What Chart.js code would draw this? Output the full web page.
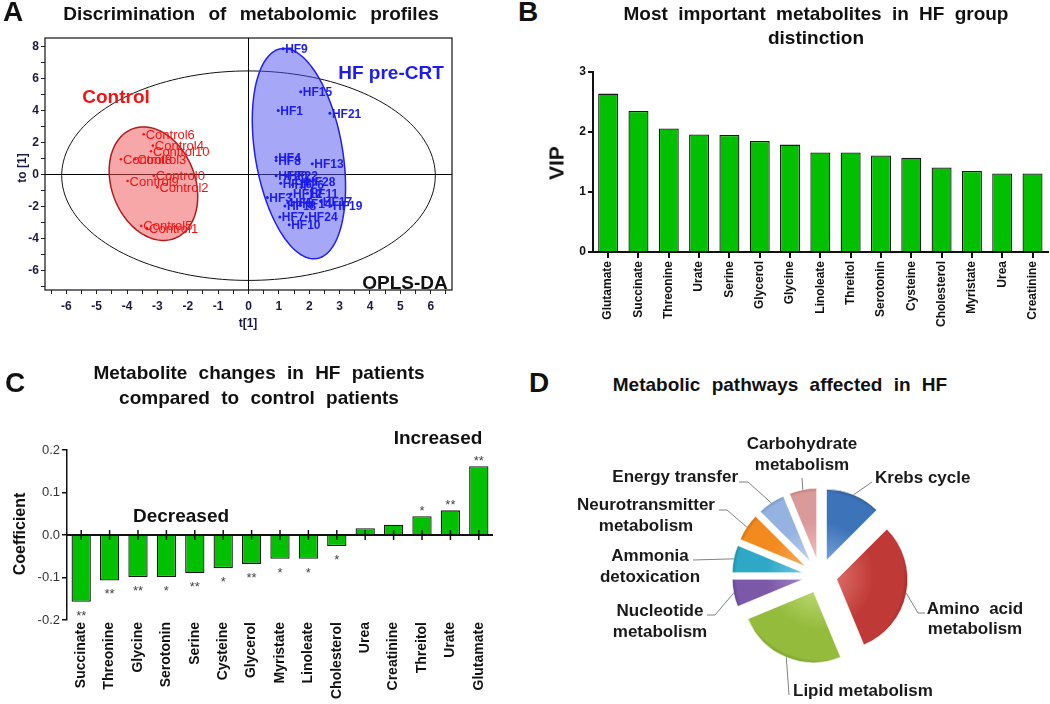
<!DOCTYPE html>
<html>
<head>
<meta charset="utf-8">
<script src="https://cdn.jsdelivr.net/npm/chart.js@4.4.1/dist/chart.umd.min.js"></script>
<style>
  body { margin: 0; width: 1050px; height: 704px; position: relative; overflow: hidden; background: #fff;
         font-family: "Liberation Sans", Arial, sans-serif; color: #111; }
  canvas { position: absolute; }
  .t { position: absolute; font-weight: bold; white-space: nowrap; line-height: 1; transform: translate(-50%, -50%); }
  .r { transform: translate(-50%, -50%) rotate(-90deg); }
</style>
</head>
<body>
<canvas id="cA" width="460" height="335" style="left:0;top:0"></canvas>
<canvas id="cB" width="510" height="330" style="left:540px;top:0"></canvas>
<canvas id="cC" width="520" height="374" style="left:0;top:330px"></canvas>
<canvas id="cD" width="520" height="284" style="left:530px;top:420px"></canvas>

<!-- panel letters and titles -->
<div class="t" style="left:13px;top:12px;font-size:28px">A</div>
<div class="t" style="left:528px;top:12px;font-size:28px">B</div>
<div class="t" style="left:15px;top:383px;font-size:28px">C</div>
<div class="t" style="left:539px;top:383px;font-size:28px">D</div>

<div class="t" style="left:251px;top:13px;font-size:19px;word-spacing:8px">Discrimination of metabolomic profiles</div>
<div class="t" style="left:816px;top:13px;font-size:19px;word-spacing:5px">Most important metabolites in HF group</div>
<div class="t" style="left:816px;top:37px;font-size:19px">distinction</div>
<div class="t" style="left:259px;top:372px;font-size:19px;word-spacing:6px">Metabolite changes in HF patients</div>
<div class="t" style="left:259px;top:397px;font-size:19px;word-spacing:6px">compared to control patients</div>
<div class="t" style="left:780px;top:384px;font-size:19px;word-spacing:6px">Metabolic pathways affected in HF</div>

<!-- panel A annotations -->
<div class="t" style="left:116px;top:96px;font-size:19px;color:#f01414">Control</div>
<div class="t" style="left:391px;top:72px;font-size:19px;color:#1c1cee">HF pre-CRT</div>
<div class="t" style="left:405px;top:282px;font-size:19px;color:#111">OPLS-DA</div>
<div class="t" style="left:248px;top:323px;font-size:12px;color:#1a1a40">t[1]</div>
<div class="t r" style="left:22px;top:168px;font-size:12px;color:#1a1a40">to [1]</div>

<!-- axis titles B, C -->
<div class="t r" style="left:556px;top:163px;font-size:21px">VIP</div>
<div class="t r" style="left:20px;top:534px;font-size:16px">Coefficient</div>
<div class="t" style="left:181px;top:515px;font-size:19px">Decreased</div>
<div class="t" style="left:438px;top:437px;font-size:19px">Increased</div>

<script>
// ---- Panel A: OPLS-DA score plot ----
const controlNames = ['Control6', 'Control4', 'Control10', 'Control8', 'Control3', 'Control0', 'Control9', 'Control2', 'Control5', 'Control1'];
const controlT  = [-3.45, -3.15, -3.21, -4.2, -3.73, -3.12, -3.98, -3.0, -3.53, -3.34];
const controlTo = [2.54, 1.83, 1.48, 0.98, 0.98, -0.06, -0.38, -0.77, -3.19, -3.33];

const hfNames = ['HF9', 'HF15', 'HF1', 'HF21', 'HF4', 'HF8', 'HF13', 'HF20', 'HF22', 'HF28', 'HF16', 'HF26',
                 'HF11', 'HF12', 'HF3', 'HF5', 'HF17', 'HF19', 'HF18', 'HF14', 'HF7', 'HF24', 'HF10'];
const hfT  = [1.14, 1.72, 0.98, 2.68, 0.91, 0.91, 2.1, 0.91, 1.25, 1.83, 1.06, 1.45,
              1.94, 1.4, 0.62, 1.3, 2.38, 2.72, 1.2, 1.7, 1.03, 1.9, 1.34];
const hfTo = [7.88, 5.2, 4.02, 3.85, 1.1, 0.9, 0.69, -0.06, -0.08, -0.42, -0.52, -0.62,
              -1.15, -1.2, -1.42, -1.75, -1.67, -1.93, -1.94, -1.82, -2.64, -2.62, -3.12];

// Hotelling T2 ellipse, Control and HF confidence ellipses (centre, two conjugate semi-axes, data units)
const ellipseCenter = [[0, -0.05], [-3.13, -0.55], [1.66, 1.33]];
const ellipseAxisU  = [[0, 6.55], [-0.33, 3.55], [-0.49, 6.58]];
const ellipseAxisV  = [[6.15, 0], [1.42, 0], [1.455, 0]];

const xTicksA = [-6.5, -6, -5.5, -5, -4.5, -4, -3.5, -3, -2.5, -2, -1.5, -1, -0.5, 0,
                 0.5, 1, 1.5, 2, 2.5, 3, 3.5, 4, 4.5, 5, 5.5, 6, 6.5];
const yTicksA = [-7, -6, -5, -4, -3, -2, -1, 0, 1, 2, 3, 4, 5, 6, 7, 8];

// ---- Panel B: VIP ----
const vipNames = ['Glutamate', 'Succinate', 'Threonine', 'Urate', 'Serine', 'Glycerol', 'Glycine', 'Linoleate',
                  'Threitol', 'Serotonin', 'Cysteine', 'Cholesterol', 'Myristate', 'Urea', 'Creatinine'];
const vipValues = [2.64, 2.35, 2.06, 1.96, 1.95, 1.85, 1.79, 1.66, 1.66, 1.61, 1.57, 1.41, 1.35, 1.31, 1.31];
const vipTicks = [0, 1, 2, 3];

// ---- Panel C: coefficients ----
const coefNames = ['Succinate', 'Threonine', 'Glycine', 'Serotonin', 'Serine', 'Cysteine', 'Glycerol', 'Myristate',
                   'Linoleate', 'Cholesterol', 'Urea', 'Creatinine', 'Threitol', 'Urate', 'Glutamate'];
const coefValues = [-0.157, -0.107, -0.099, -0.099, -0.090, -0.078, -0.068, -0.056, -0.056, -0.026, 0.016, 0.024, 0.044, 0.058, 0.162];
const coefStars = ['**', '**', '**', '*', '**', '*', '**', '*', '*', '*', '', '', '*', '**', '**'];
const coefTicks = [-0.2, -0.1, 0, 0.1, 0.2];

// ---- Panel D: pathways ----
const pathNames = ['Krebs cycle', 'Amino acid metabolism', 'Lipid metabolism', 'Nucleotide metabolism',
                   'Ammonia detoxication', 'Neurotransmitter metabolism', 'Energy transfer', 'Carbohydrate metabolism'];
const pathCounts = [2, 5, 4, 1, 1, 1, 1, 1];
const pathColors = ['#3d73b9', '#bf3a36', '#94bb3c', '#7b58a8', '#2ea8c6', '#f28a1f', '#94b3e0', '#db9a9a'];
const pathLight  = ['#7aa6dc', '#de6e69', '#bcd871', '#a486cb', '#6fcbe2', '#f8b16a', '#c0d3f0', '#efc2c2'];
const pathDark   = ['#27528c', '#8f2623', '#6f902a', '#553a7e', '#1b7e98', '#c0660c', '#6b8fc2', '#b57070'];

const FONT = '"Liberation Sans", Arial, sans-serif';
Chart.defaults.font.family = FONT;
Chart.defaults.animation = false;
Chart.defaults.responsive = false;
Chart.defaults.plugins.legend.display = false;
Chart.defaults.plugins.tooltip.enabled = false;

// panel A plugins
const ellipseFill   = [null, 'rgba(240,80,80,0.5)', 'rgba(80,80,240,0.5)'];
const ellipseStroke = ['#111', '#b01c1c', '#2020ee'];
const ellipseWidth  = [1, 1.5, 1.5];

const ellipsePlugin = {
  id: 'ellipses',
  beforeDatasetsDraw(chart) {
    const {ctx, chartArea: a, scales: {x, y}} = chart;
    ctx.save();
    ctx.beginPath();
    ctx.rect(a.left, a.top, a.right - a.left, a.bottom - a.top);
    ctx.clip();
    ellipseCenter.forEach((c, i) => {
      const u = ellipseAxisU[i], v = ellipseAxisV[i];
      ctx.beginPath();
      for (let k = 0; k <= 180; k++) {
        const t = k / 180 * Math.PI * 2;
        const px = x.getPixelForValue(c[0] + u[0] * Math.cos(t) + v[0] * Math.sin(t));
        const py = y.getPixelForValue(c[1] + u[1] * Math.cos(t) + v[1] * Math.sin(t));
        if (k) ctx.lineTo(px, py); else ctx.moveTo(px, py);
      }
      ctx.closePath();
      if (ellipseFill[i]) { ctx.fillStyle = ellipseFill[i]; ctx.fill(); }
      ctx.lineWidth = ellipseWidth[i];
      ctx.strokeStyle = ellipseStroke[i];
      ctx.stroke();
    });
    ctx.restore();
  }
};

const pointLabelPlugin = {
  id: 'pointLabels',
  afterDatasetsDraw(chart) {
    const ctx = chart.ctx;
    chart.data.datasets.forEach((ds, di) => {
      const meta = chart.getDatasetMeta(di);
      ctx.save();
      ctx.font = ds.labelFont;
      ctx.fillStyle = ds.borderColor;
      ctx.textBaseline = 'middle';
      meta.data.forEach((pt, i) => ctx.fillText(ds.names[i], pt.x + 2, pt.y + 1));
      ctx.restore();
    });
    // frame round the plot
    const a = chart.chartArea;
    ctx.save();
    ctx.strokeStyle = '#111';
    ctx.lineWidth = 1.2;
    ctx.strokeRect(a.left, a.top, a.right - a.left, a.bottom - a.top);
    ctx.restore();
  }
};

new Chart(document.getElementById('cA'), {
  type: 'scatter',
  data: {
    datasets: [
      {
        data: controlT.map((t, i) => ({x: t, y: controlTo[i]})),
        names: controlNames, labelFont: '13px ' + FONT,
        backgroundColor: '#f01414', borderColor: '#f01414', pointRadius: 1.3, borderWidth: 0
      },
      {
        data: hfT.map((t, i) => ({x: t, y: hfTo[i]})),
        names: hfNames, labelFont: 'bold 12px ' + FONT,
        backgroundColor: '#1c1cee', borderColor: '#1c1cee', pointRadius: 1.5, borderWidth: 0
      }
    ]
  },
  options: {
    layout: {padding: {top: 38, right: 8}},
    scales: {
      x: {
        type: 'linear', min: -6.7, max: 6.7,
        afterBuildTicks: s => { s.ticks = xTicksA.map(v => ({value: v})); },
        afterFit: s => { s.height = 45; },
        ticks: {callback: v => Number.isInteger(v) ? String(v) : '', color: '#1a1a40',
                font: {size: 12, weight: 'bold'}, padding: 5, maxRotation: 0, autoSkip: false},
        grid: {color: c => (c.tick && c.tick.value === 0) ? '#000' : 'rgba(0,0,0,0)',
               tickColor: '#222', tickLength: 4, lineWidth: 1},
        border: {display: false}
      },
      y: {
        min: -7.2, max: 8.56,
        afterBuildTicks: s => { s.ticks = yTicksA.map(v => ({value: v})); },
        afterFit: s => { s.width = 45; },
        ticks: {callback: v => v % 2 === 0 ? String(v) : '', color: '#1a1a40',
                font: {size: 12, weight: 'bold'}, padding: 2, autoSkip: false},
        grid: {color: c => (c.tick && c.tick.value === 0) ? '#000' : 'rgba(0,0,0,0)',
               tickColor: '#222', tickLength: 4, lineWidth: 1},
        border: {display: false}
      }
    }
  },
  plugins: [ellipsePlugin, pointLabelPlugin]
});

// ---- Panel B ----
new Chart(document.getElementById('cB'), {
  type: 'bar',
  data: {
    labels: vipNames,
    datasets: [{data: vipValues, backgroundColor: '#00c000', borderColor: '#1a1a1a', borderWidth: 1.3,
                barPercentage: 0.66, categoryPercentage: 1}]
  },
  options: {
    layout: {padding: {top: 72, right: 2}},
    scales: {
      x: {
        afterFit: s => { s.height = 78; },
        ticks: {minRotation: 90, maxRotation: 90, autoSkip: false, color: '#111',
                font: {size: 12, weight: 'bold'}, padding: 3},
        grid: {offset: false, drawOnChartArea: false, tickLength: 6, tickColor: '#111', lineWidth: 2},
        border: {color: '#111', width: 2}
      },
      y: {
        min: 0, max: 3,
        afterBuildTicks: s => { s.ticks = vipTicks.map(v => ({value: v})); },
        afterFit: s => { s.width = 53; },
        ticks: {color: '#111', font: {size: 12, weight: 'bold'}, padding: 2},
        grid: {drawOnChartArea: false, tickLength: 5, tickColor: '#111', lineWidth: 2},
        border: {color: '#111', width: 2}
      }
    }
  }
});

// ---- Panel C ----
const zeroAxisPlugin = {
  id: 'zeroAxis',
  afterDatasetsDraw(chart) {
    const {ctx, chartArea: a, scales: {x, y}} = chart;
    const y0 = y.getPixelForValue(0);
    ctx.save();
    ctx.strokeStyle = '#111';
    ctx.lineWidth = 2;
    ctx.beginPath();
    ctx.moveTo(a.left, y0);
    ctx.lineTo(a.right, y0);
    ctx.stroke();
    ctx.lineWidth = 1.5;
    coefNames.forEach((n, i) => {
      const px = x.getPixelForValue(i);
      ctx.beginPath();
      ctx.moveTo(px, y0 - 5);
      ctx.lineTo(px, y0 + 5);
      ctx.stroke();
    });
    const meta = chart.getDatasetMeta(0);
    ctx.fillStyle = '#444';
    ctx.font = '13px ' + FONT;
    ctx.textAlign = 'center';
    meta.data.forEach((bar, i) => {
      ctx.fillText(coefStars[i], bar.x, coefValues[i] < 0 ? bar.y + 18 : bar.y - 1);
    });
    ctx.restore();
  }
};

new Chart(document.getElementById('cC'), {
  type: 'bar',
  data: {
    labels: coefNames,
    datasets: [{data: coefValues, backgroundColor: '#00c000', borderColor: '#1a1a1a', borderWidth: 1.3,
                barPercentage: 0.68, categoryPercentage: 1}]
  },
  options: {
    layout: {padding: {top: 120, right: 27}},
    scales: {
      x: {
        afterFit: s => { s.height = 84; },
        ticks: {minRotation: 90, maxRotation: 90, autoSkip: false, color: '#111',
                font: {size: 14, weight: 'bold'}, padding: 2},
        grid: {display: false, drawTicks: false},
        border: {display: false}
      },
      y: {
        min: -0.2, max: 0.2,
        afterBuildTicks: s => { s.ticks = coefTicks.map(v => ({value: v})); },
        afterFit: s => { s.width = 67; },
        ticks: {callback: v => v.toFixed(1), color: '#333', font: {size: 13}, padding: 2},
        grid: {drawOnChartArea: false, tickLength: 5, tickColor: '#111', lineWidth: 1.5},
        border: {color: '#111', width: 1.5}
      }
    }
  },
  plugins: [zeroAxisPlugin]
});

// ---- Panel D ----
const explode = 17;
// label text, anchor and leader elbows (canvas pixels)
const pathLines = [['Krebs cycle'], ['Amino  acid', 'metabolism'], ['Lipid metabolism'], ['Nucleotide', 'metabolism'],
                   ['Ammonia', 'detoxication'], ['Neurotransmitter', 'metabolism'], ['Energy transfer'], ['Carbohydrate', 'metabolism']];
const pathAlign = ['left', 'center', 'left', 'center', 'center', 'center', 'right', 'center'];
const pathLabelX = [345, 445, 263, 130, 120, 116, 208, 272];
const pathLabelY = [[58], [189, 209], [271], [191, 212], [136, 157], [85, 106], [57], [24, 45]];
const pathLeader = [[[342, 62]], [[388, 193], [395, 193]], [[259, 275]], [[185, 195], [177, 195]],
                    [[163, 140]], [[197, 90], [189, 90]], [[218, 62], [209, 62]], [[272, 58]]];

const pieLabelPlugin = {
  id: 'pieLabels',
  afterDatasetUpdate(chart, args) {
    args.meta.data.forEach(arc => {
      const mid = (arc.startAngle + arc.endAngle) / 2;
      arc.x += Math.cos(mid) * explode;
      arc.y += Math.sin(mid) * explode;
    });
  },
  afterDatasetsDraw(chart) {
    const ctx = chart.ctx;
    const meta = chart.getDatasetMeta(0);
    ctx.save();
    meta.data.forEach((arc, i) => {
      const mid = (arc.startAngle + arc.endAngle) / 2;
      const sx = arc.x + Math.cos(mid) * arc.outerRadius;
      const sy = arc.y + Math.sin(mid) * arc.outerRadius;
      ctx.strokeStyle = '#808080';
      ctx.lineWidth = 1;
      ctx.beginPath();
      ctx.moveTo(sx, sy);
      pathLeader[i].forEach(p => ctx.lineTo(p[0], p[1]));
      ctx.stroke();
      ctx.fillStyle = '#1a1a1a';
      ctx.font = 'bold 17px ' + FONT;
      ctx.textAlign = pathAlign[i];
      ctx.textBaseline = 'middle';
      pathLines[i].forEach((t, k) => ctx.fillText(t, pathLabelX[i], pathLabelY[i][k]));
    });
    ctx.restore();
  }
};

new Chart(document.getElementById('cD'), {
  type: 'pie',
  data: {
    labels: pathNames,
    datasets: [{
      data: pathCounts,
      radius: 71,
      borderWidth: 1,
      borderColor: 'rgba(255,255,255,0.6)',
      backgroundColor: c => {
        const a = c.chart.chartArea;
        if (!a) return pathColors[c.dataIndex];
        const cx = (a.left + a.right) / 2, cy = (a.top + a.bottom) / 2;
        const g = c.chart.ctx.createRadialGradient(cx, cy, 0, cx, cy, 90);
        g.addColorStop(0.15, pathLight[c.dataIndex]);
        g.addColorStop(0.6, pathColors[c.dataIndex]);
        g.addColorStop(0.93, pathColors[c.dataIndex]);
        g.addColorStop(1, pathDark[c.dataIndex]);
        return g;
      }
    }]
  },
  options: {
    layout: {padding: {left: 60, top: 28}}
  },
  plugins: [pieLabelPlugin]
});
</script>
</body>
</html>
